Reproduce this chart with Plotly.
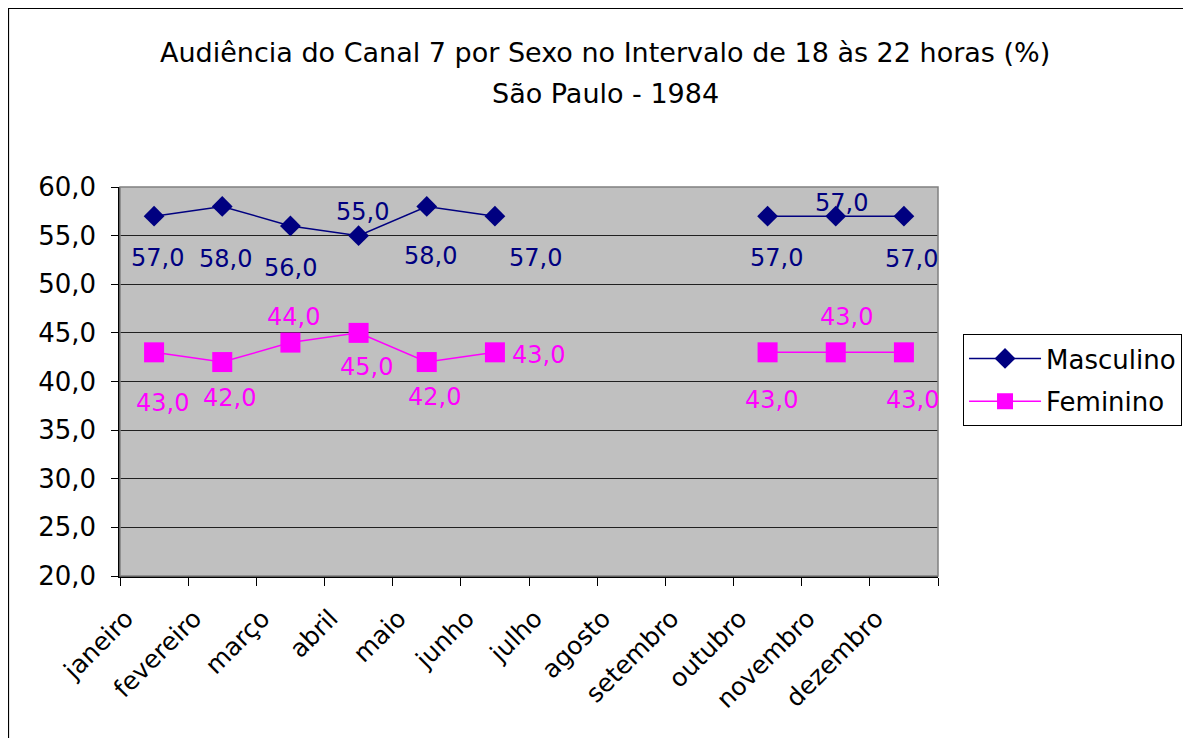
import plotly.graph_objects as go

months = ["janeiro", "fevereiro", "março", "abril", "maio", "junho", "julho",
          "agosto", "setembro", "outubro", "novembro", "dezembro"]
masculino = [57, 58, 56, 55, 58, 57, None, None, None, 57, 57, 57]
feminino = [43, 42, 44, 45, 42, 43, None, None, None, 43, 43, 43]

# label offsets in pixels (style only)
m_off = [(3, -42), (3, -53), (0, -42), (4, 24), (4, -50), (41, -42),
         None, None, None, (9, -42), (6, 13), (8, -43)]
f_off = [(8, -51), (7, -36), (3, 26), (8, -34), (8, -35), (44, -3),
         None, None, None, (4, -48), (11, 35), (9, -48)]

FONT = "DejaVu Sans"
NAVY = "#000080"
MAG = "#FF00FF"

fig = go.Figure()
fig.add_trace(go.Scatter(
    x=months, y=masculino, name="Masculino", mode="lines+markers",
    line=dict(color=NAVY, width=1.5), connectgaps=False,
    marker=dict(symbol="diamond", size=16, color=NAVY),
    legendgroup="m"))
fig.add_trace(go.Scatter(
    x=months, y=feminino, name="Feminino", mode="lines+markers",
    line=dict(color=MAG, width=1.5), connectgaps=False,
    marker=dict(symbol="square", size=20, color=MAG),
    legendgroup="f"))

ann = []
for series, offs, col in ((masculino, m_off, NAVY), (feminino, f_off, MAG)):
    for m, v, o in zip(months, series, offs):
        if v is None:
            continue
        ann.append(dict(x=m, y=v, xref="x", yref="y",
                        text=f"{v:.1f}".replace(".", ","), showarrow=False,
                        xshift=o[0], yshift=o[1],
                        xanchor="center", yanchor="middle",
                        font=dict(family=FONT, size=24, color=col)))

ann.append(dict(x=0.593, y=1.347, xref="paper", yref="paper", showarrow=False,
                xanchor="center", yanchor="middle",
                text="Audiência do Canal 7 por Sexo no Intervalo de 18 às 22 horas (%)",
                font=dict(family=FONT, size=27, color="black")))
ann.append(dict(x=0.593, y=1.2416, xref="paper", yref="paper", showarrow=False,
                xanchor="center", yanchor="middle",
                text="São Paulo - 1984",
                font=dict(family=FONT, size=27, color="black")))

fig.update_layout(
    width=1183, height=730,
    margin=dict(l=112, r=253, t=179, b=162, autoexpand=False),
    paper_bgcolor="white", plot_bgcolor="#C0C0C0",
    separators=",.",
    font=dict(family=FONT, color="black"),
    showlegend=True,
    legend=dict(x=1.0306, y=0.622, xanchor="left", yanchor="top",
                bgcolor="white", bordercolor="black", borderwidth=1,
                font=dict(family=FONT, size=26, color="black"),
                traceorder="grouped", tracegroupgap=6, itemwidth=72),
    annotations=ann,
    shapes=[
        dict(type="rect", xref="paper", yref="paper", x0=0, x1=1, y0=0, y1=1,
             line=dict(color="#808080", width=1.5), layer="above"),
        dict(type="rect", xref="paper", yref="paper", x0=-0.1363, x1=1.5,
             y0=-0.6, y1=1.459, line=dict(color="black", width=1.2), layer="below"),
    ],
)
fig.update_xaxes(
    type="category", categoryorder="array", categoryarray=months,
    tickson="boundaries", ticks="outside", ticklen=8, tickcolor="black",
    showline=True, linecolor="black", linewidth=1.5, showgrid=False,
    tickangle=-45, tickfont=dict(family=FONT, size=25, color="black"),
    ticklabelstandoff=16, ticklabelshift=-28, range=[-0.5, 11.5])
fig.update_yaxes(
    range=[20, 60], dtick=5, tickformat=".1f", ticks="outside", ticklen=7,
    tickcolor="black", showline=True, linecolor="black", linewidth=1.5,
    showgrid=True, gridcolor="#202020", gridwidth=1, zeroline=False,
    tickfont=dict(family=FONT, size=26, color="black"), ticklabelstandoff=10)

fig.write_html("out.html")
